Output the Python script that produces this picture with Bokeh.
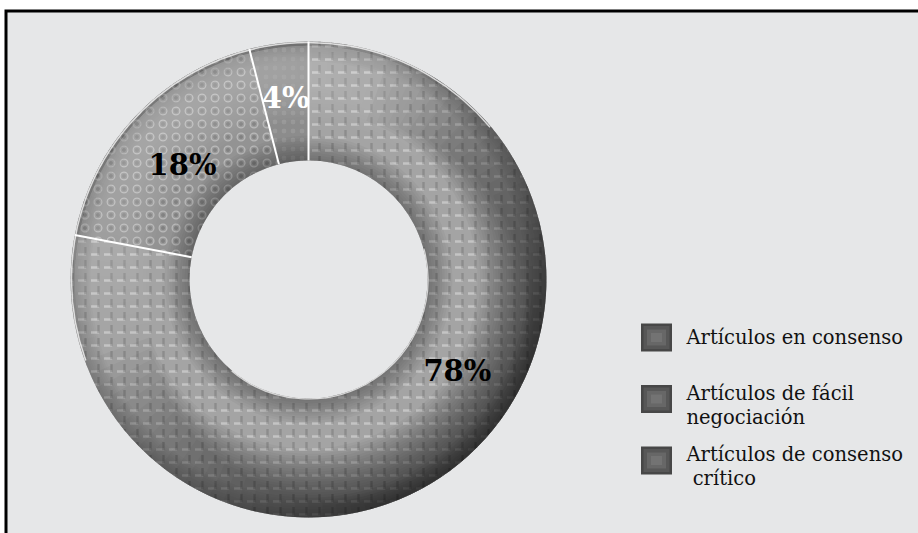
import numpy as np
from bokeh.plotting import figure
from bokeh.models import Range1d
from bokeh.embed import file_html
from bokeh.resources import INLINE
from bokeh.core.properties import value

# ---------------- data ----------------
categories = ["Artículos en consenso",
              "Artículos de fácil\nnegociación",
              "Artículos de consenso\n crítico"]
shares = [78, 18, 4]
pct_labels = ["78%", "18%", "4%"]

# ---------------- styles / layout ----------------
slice_colors = ["#a4a4a4", "#939393", "#8c8c8c"]
hatch_light = ["horizontal_dash", "ring", "dot"]
hatch_dark = ["vertical_dash", "dot", "dot"]
hatch_scales = [13, 13, 9]
label_colors = ["black", "black", "white"]
label_nudge_deg = [18.7, 1.0, 0.0]
label_radius = [175, 170, 183]

W, H = 918, 533
BG = "#e6e7e8"


def Y(y):
    return H - y


p = figure(width=W, height=H, x_range=Range1d(0, W), y_range=Range1d(0, H),
           output_backend="svg", toolbar_location=None, min_border=0)
p.axis.visible = False
p.grid.visible = False
p.outline_line_color = None
p.background_fill_color = "white"
p.border_fill_color = "white"

# frame (black line on top and left, light grey panel)
p.quad(left=[4], right=[W + 5], top=[Y(9)], bottom=[-5], fill_color="black", line_color=None)
p.quad(left=[7], right=[W + 5], top=[Y(12)], bottom=[-5], fill_color=BG, line_color=None)

# ---------------- donut ----------------
cx, cy = 308, Y(279)
R_out, R_in = 238, 119

fr = np.array(shares, dtype=float) / sum(shares)
ends_cw = np.cumsum(fr) * 2 * np.pi
starts_cw = ends_cw - fr * 2 * np.pi
start_a = np.pi / 2 - starts_cw
end_a = np.pi / 2 - ends_cw
n = len(shares)

p.annular_wedge(x=[cx] * n, y=[cy] * n, inner_radius=R_in, outer_radius=R_out,
                start_angle=start_a, end_angle=end_a, direction="clock",
                fill_color=slice_colors, line_color=None)
# texture (light and dark hatch)
for i in range(n):
    p.annular_wedge(x=[cx], y=[cy], inner_radius=R_in, outer_radius=R_out,
                    start_angle=start_a[i], end_angle=end_a[i], direction="clock",
                    fill_alpha=0, line_color=None, hatch_pattern=hatch_light[i],
                    hatch_color="white", hatch_alpha=0.35, hatch_scale=hatch_scales[i],
                    hatch_weight=2.5)
    p.annular_wedge(x=[cx], y=[cy], inner_radius=R_in, outer_radius=R_out,
                    start_angle=start_a[i], end_angle=end_a[i], direction="clock",
                    fill_alpha=0, line_color=None, hatch_pattern=hatch_dark[i],
                    hatch_color="#555555", hatch_alpha=0.3, hatch_scale=hatch_scales[i],
                    hatch_weight=2.5)

# shading: outer rim
m = 10
k = np.arange(m)
p.annulus(x=[cx] * m, y=[cy] * m, inner_radius=R_out - 2 * (k + 1), outer_radius=[R_out] * m,
          fill_color="black", fill_alpha=0.02, line_color=None)
# shading: bottom-right darkening
m = 26
k = np.arange(m)
th_d = np.radians(-45)
hw = np.radians(115 - 3.5 * k)
p.annular_wedge(x=[cx] * m, y=[cy] * m, inner_radius=R_in + 50 + 2.6 * k, outer_radius=[R_out] * m,
                start_angle=th_d - hw, end_angle=th_d + hw,
                fill_color="black", fill_alpha=0.03, line_color=None)
# shading: inner edge shadow
m = 10
k = np.arange(m)
p.annulus(x=[cx] * m, y=[cy] * m, inner_radius=[R_in] * m, outer_radius=R_in + 2.5 * (k + 1),
          fill_color="black", fill_alpha=0.03, line_color=None)
# highlight top
m = 14
k = np.arange(m)
th_l = np.radians(120)
hw = np.radians(75 - 4 * k)
p.annular_wedge(x=[cx] * m, y=[cy] * m, inner_radius=R_in + 40 + 3.5 * k, outer_radius=[R_out - 4] * m,
                start_angle=th_l - hw, end_angle=th_l + hw,
                fill_color="white", fill_alpha=0.02, line_color=None)

# white separators
b = np.pi / 2 - np.concatenate([[0.0], ends_cw[:-1]])
p.segment(x0=cx + R_in * np.cos(b), y0=cy + R_in * np.sin(b),
          x1=cx + R_out * np.cos(b), y1=cy + R_out * np.sin(b),
          line_color="white", line_width=2)
# outer and inner highlight arcs
p.arc(x=[cx], y=[cy], radius=R_out - 1, start_angle=np.radians(40), end_angle=np.radians(200),
      line_color="white", line_alpha=0.75, line_width=1.5)
p.arc(x=[cx], y=[cy], radius=R_in + 0.5, start_angle=np.radians(-130), end_angle=np.radians(15),
      line_color="white", line_alpha=0.7, line_width=1.2)

# percentage labels
mid = (start_a + end_a) / 2 + np.radians(label_nudge_deg)
lr = np.array(label_radius)
p.text(x=cx + lr * np.cos(mid), y=cy + lr * np.sin(mid), text=pct_labels,
       text_color=label_colors, text_font=value("DejaVu Serif"), text_font_style="bold",
       text_font_size="29px", text_align="center", text_baseline="middle")

# ---------------- legend ----------------
leg_x, leg_y0, leg_step = 656, 337, 61.5
line_h = 24
for i, cat in enumerate(categories):
    yc = leg_y0 + i * leg_step
    p.rect(x=[leg_x], y=[Y(yc)], width=31, height=28, fill_color="#474747", line_color=None)
    p.rect(x=[leg_x], y=[Y(yc)], width=26, height=23, fill_color="#575757", line_color=None)
    p.rect(x=[leg_x], y=[Y(yc)], width=19, height=16, fill_color="#676767", line_color=None)
    p.rect(x=[leg_x], y=[Y(yc)], width=11, height=9, fill_color="#737373", line_color=None)
    lines = [ln.replace(" ", "\u00a0") for ln in cat.split("\n")]
    ys = [Y(yc - 6 * (len(lines) - 1) + line_h * j) for j in range(len(lines))]
    p.text(x=[leg_x + 30] * len(lines), y=ys, text=lines, text_color="#111111",
           text_font=value("DejaVu Serif"), text_font_size="19.5px",
           text_align="left", text_baseline="middle")

open("out.html", "w").write(file_html(p, INLINE))
